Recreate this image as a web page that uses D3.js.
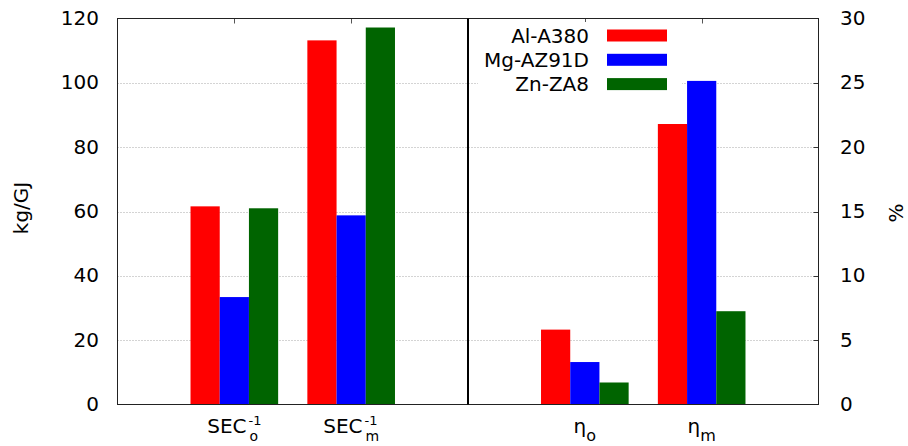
<!DOCTYPE html>
<html>
<head>
<meta charset="utf-8">
<script src="https://cdn.jsdelivr.net/npm/d3@7"></script>
<style>
  html, body { margin: 0; padding: 0; background: #fff; }
  svg { display: block; font-family: "DejaVu Sans", sans-serif; }
</style>
</head>
<body>
<svg id="chart" width="908" height="446"></svg>
<script>
// ---- data ----
const catMain = ["SEC", "SEC", "η", "η"];
const catSup  = ["-1", "-1", "", ""];
const catSub  = ["o", "m", "o", "m"];
const catPos  = [0, 1, 3, 4];
const catAxis = ["left", "left", "right", "right"];
const seriesNames  = ["Al-A380", "Mg-AZ91D", "Zn-ZA8"];
const seriesColors = ["#ff0000", "#0000ff", "#006400"];
const alA380   = [61.6, 113.2, 5.82, 21.8];
const mgAZ91D  = [33.4, 58.8, 3.3, 25.15];
const znZA8    = [61.0, 117.2, 1.71, 7.25];
const seriesValues = [alA380, mgAZ91D, znZA8];
const leftTicks  = [0, 20, 40, 60, 80, 100, 120];
const rightTicks = [0, 5, 10, 15, 20, 25, 30];

// ---- layout ----
const svg = d3.select("#chart");
const L = 117.5, R = 818.5, T = 18.5, B = 404.5;
const x = d3.scaleLinear().domain([-1, 5]).range([L, R]);
const yL = d3.scaleLinear().domain([0, 120]).range([B, T]);
const yR = d3.scaleLinear().domain([0, 30]).range([B, T]);
const barW = 0.25;

// grid
svg.append("g").selectAll("line")
  .data(leftTicks.filter(d => d > 0 && d < 120))
  .join("line")
  .attr("x1", L).attr("x2", R)
  .attr("y1", d => Math.round(yL(d)) + 0.5).attr("y2", d => Math.round(yL(d)) + 0.5)
  .attr("stroke", "#a8a8a8").attr("stroke-width", 1)
  .attr("stroke-dasharray", "1,2");

// right ticks (inward)
svg.append("g").selectAll("line")
  .data(rightTicks.filter(d => d > 0 && d < 30))
  .join("line")
  .attr("x1", R - 5).attr("x2", R)
  .attr("y1", d => Math.round(yR(d)) + 0.5).attr("y2", d => Math.round(yR(d)) + 0.5)
  .attr("stroke", "#333");

// top ticks at categories
svg.append("g").selectAll("line")
  .data(catPos)
  .join("line")
  .attr("x1", d => Math.round(x(d)) + 0.5).attr("x2", d => Math.round(x(d)) + 0.5)
  .attr("y1", T).attr("y2", T + 5)
  .attr("stroke", "#555");

// bars
seriesValues.forEach((vals, si) => {
  svg.append("g").selectAll("rect")
    .data(vals.map((v, i) => ({ v, i })))
    .join("rect")
    .attr("x", d => x(catPos[d.i] - 0.375 + si * barW))
    .attr("width", x(barW) - x(0))
    .attr("y", d => (catAxis[d.i] === "left" ? yL : yR)(d.v))
    .attr("height", d => B - (catAxis[d.i] === "left" ? yL : yR)(d.v))
    .attr("fill", seriesColors[si]);
});

// frame
svg.append("rect")
  .attr("x", L).attr("y", T).attr("width", R - L).attr("height", B - T)
  .attr("fill", "none").attr("stroke", "#222").attr("stroke-width", 1);

// divider
svg.append("line")
  .attr("x1", x(2)).attr("x2", x(2)).attr("y1", T).attr("y2", B)
  .attr("stroke", "#000").attr("stroke-width", 2);

// left axis labels
svg.append("g").selectAll("text")
  .data(leftTicks).join("text")
  .attr("x", 99).attr("y", d => yL(d)).attr("dy", "0.33em")
  .attr("text-anchor", "end").attr("font-size", 20).attr("fill", "#000")
  .text(d => d);

// right axis labels
svg.append("g").selectAll("text")
  .data(rightTicks).join("text")
  .attr("x", 840).attr("y", d => yR(d)).attr("dy", "0.33em")
  .attr("text-anchor", "start").attr("font-size", 20).attr("fill", "#000")
  .text(d => d);

// axis titles
svg.append("text")
  .attr("transform", "translate(28,208) rotate(-90)")
  .attr("text-anchor", "middle").attr("font-size", 20)
  .text("kg/GJ");
svg.append("text")
  .attr("transform", "translate(903,213) rotate(-90)")
  .attr("text-anchor", "middle").attr("font-size", 20)
  .text("%");

// x category labels
catPos.forEach((p, i) => {
  const g = svg.append("g");
  const main = g.append("text").attr("x", 0).attr("y", 433)
    .attr("font-size", 20).text(catMain[i]);
  const mw = main.node().getComputedTextLength();
  let sw = 0, bw = 0;
  if (catSup[i]) {
    const s = g.append("text").attr("x", mw + 2).attr("y", 424.5)
      .attr("font-size", 13).text(catSup[i]);
    sw = s.node().getComputedTextLength() + 2;
  }
  if (catSub[i]) {
    const off = catSup[i] ? 3 : 0;
    const s = g.append("text").attr("x", mw + off).attr("y", 441)
      .attr("font-size", catSup[i] ? 14 : 16).text(catSub[i]);
    bw = s.node().getComputedTextLength() + off;
  }
  const total = mw + Math.max(sw, bw);
  g.attr("transform", `translate(${x(p) - total / 2},0)`);
});

// legend
const lg = svg.append("g");
lg.append("rect").attr("x", 478).attr("y", 22).attr("width", 204).attr("height", 74)
  .attr("fill", "#fff");
seriesNames.forEach((n, i) => {
  const cy = 35.5 + i * 24.3;
  lg.append("text").attr("x", 589).attr("y", cy).attr("dy", "0.35em")
    .attr("text-anchor", "end").attr("font-size", 20).text(n);
  lg.append("rect").attr("x", 607).attr("y", cy - 6).attr("width", 60).attr("height", 12)
    .attr("fill", seriesColors[i]);
});
</script>
</body>
</html>
